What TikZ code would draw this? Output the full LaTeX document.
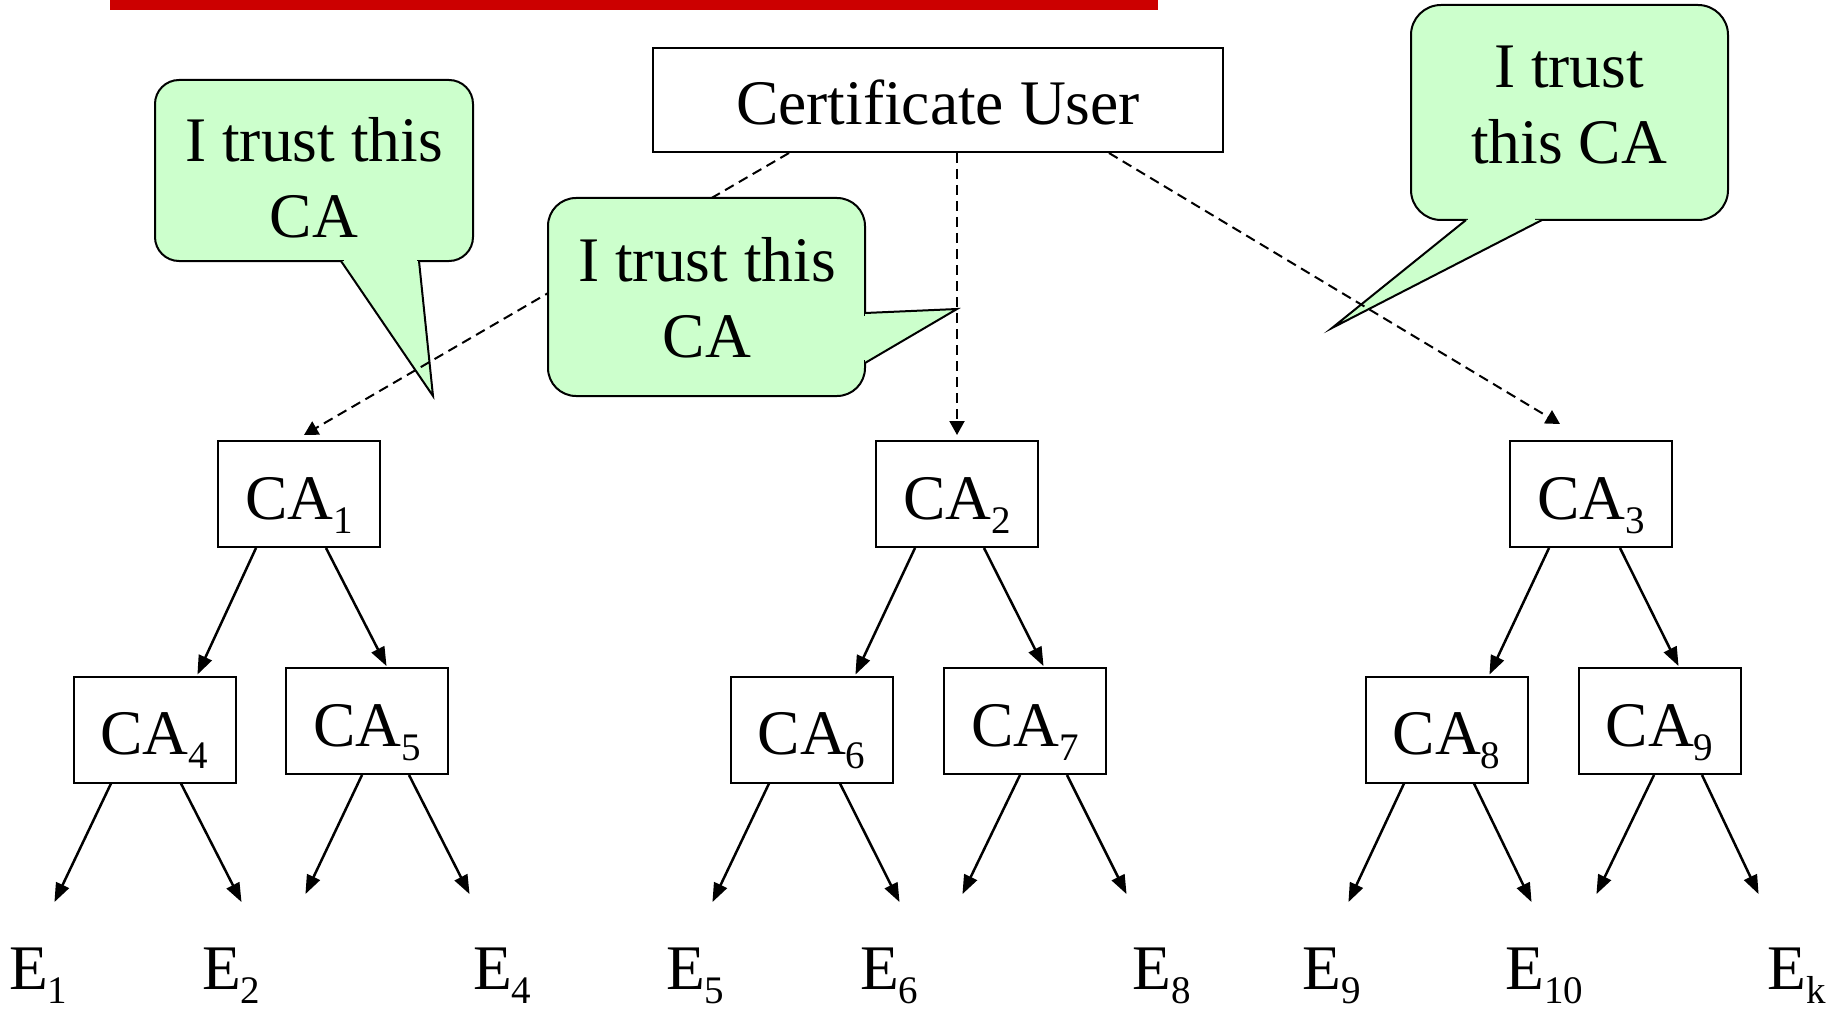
\documentclass[tikz,border=0pt]{standalone}
\usepackage{fontspec}
\setmainfont{Liberation Serif}
\usetikzlibrary{arrows.meta}
\definecolor{calloutgreen}{RGB}{204,255,204}
\definecolor{barred}{RGB}{204,0,0}
\newcommand\lowsub[1]{\raisebox{-14pt}{\fontsize{39}{39}\selectfont #1}}
\begin{document}
\begin{tikzpicture}[x=1pt,y=-1pt,
  big/.style={font=\fontsize{63.5}{76}\selectfont},
  cabox/.style={draw, line width=2pt, minimum width=162pt, minimum height=106pt, inner sep=0pt, big, text height=56pt, text depth=6pt},
  bubble/.style={fill=calloutgreen, draw=black, line width=2pt},
  bubbleline/.style={draw=black, line width=2pt, line join=miter},
  bubbletext/.style={big, align=center, anchor=base, inner sep=0pt},
  dashlink/.style={line width=2pt, dash pattern=on 10pt off 6pt, -{Triangle[length=14pt,width=15pt]}},
  arrowlink/.style={line width=2.5pt, shorten >=1pt, -{Triangle[length=19pt,width=14pt]}},
  leaf/.style={big, anchor=base west, inner sep=0pt}
]
\useasboundingbox (0,0) rectangle (1839,1011);

% red bar
\fill[barred] (110,0) rectangle (1158,10);

% callout 1 (under the dashed lines); text anchored at its last baseline
\draw[bubble, rounded corners=24pt] (155,80) rectangle (473,261);
\fill[calloutgreen] (341,261) -- (433,396) -- (419,261) -- cycle;
\fill[calloutgreen] (344,256) rectangle (417,264);
\draw[bubbleline] (341,261) -- (433,396) -- (419,261);
\node[bubbletext] (b1) at (314,237) {I trust this\\CA};

% callout 3
\draw[bubble, rounded corners=30pt] (1411,5) rectangle (1728,220);
\fill[calloutgreen] (1466,220) -- (1332,328) -- (1542,220) -- cycle;
\fill[calloutgreen] (1468,215) rectangle (1535,223);
\draw[bubbleline] (1466,220) -- (1332,328) -- (1542,220);
\node[bubbletext] (b3) at (1569,164) {I trust\\this CA};

% boxes
\node[cabox, minimum width=570pt, minimum height=104pt] (cu) at (938,100) {Certificate User};
\node[cabox] (ca1) at (299,494) {CA\lowsub{1}};
\node[cabox] (ca2) at (957,494) {CA\lowsub{2}};
\node[cabox] (ca3) at (1591,494) {CA\lowsub{3}};
\node[cabox] (ca4) at (154.5,729.5) {CA\lowsub{4}};
\node[cabox] (ca5) at (367,721) {CA\lowsub{5}};
\node[cabox] (ca6) at (811.5,729.5) {CA\lowsub{6}};
\node[cabox] (ca7) at (1025,721) {CA\lowsub{7}};
\node[cabox] (ca8) at (1446.5,729.5) {CA\lowsub{8}};
\node[cabox] (ca9) at (1659.5,721) {CA\lowsub{9}};

% dashed trust links
\draw[dashlink] (cu.south -| 789,0) -- ([xshift=5pt,yshift=5pt]ca1.north);
\draw[dashlink] (cu.south -| 957,0) -- ([yshift=5pt]ca2.north);
\draw[dashlink] (cu.south -| 1109,0) -- ([xshift=-31pt,yshift=16pt]ca3.north);

% callout 2 (over the dashed line)
\draw[bubble, rounded corners=28pt] (548,198) rectangle (865,396);
\fill[calloutgreen] (865,313) -- (957,309) -- (865,363) -- cycle;
\fill[calloutgreen] (860,316) rectangle (868,360);
\draw[bubbleline] (865,313) -- (957,309) -- (865,363);
\node[bubbletext] (b2) at (707,357) {I trust this\\CA};

% CA to CA arrows
\draw[arrowlink] (ca1.south -| 256,0) -- (ca4.north -| 197,0);
\draw[arrowlink] (ca1.south -| 326,0) -- (ca5.north -| 387,0);
\draw[arrowlink] (ca2.south -| 915,0) -- (ca6.north -| 855,0);
\draw[arrowlink] (ca2.south -| 984,0) -- (ca7.north -| 1044,0);
\draw[arrowlink] (ca3.south -| 1549,0) -- (ca8.north -| 1489,0);
\draw[arrowlink] (ca3.south -| 1620,0) -- (ca9.north -| 1679,0);

% leaf arrow ends
\coordinate (p1) at (54,903);
\coordinate (p2) at (242,903);
\coordinate (p3) at (305,895);
\coordinate (p4) at (470,895);
\coordinate (p5) at (712,903);
\coordinate (p6) at (900,903);
\coordinate (p7) at (962,895);
\coordinate (p8) at (1127,895);
\coordinate (p9) at (1348,903);
\coordinate (p10) at (1532,903);
\coordinate (p11) at (1596,895);
\coordinate (p12) at (1759,895);

\draw[arrowlink] (ca4.south -| 111,0) -- (p1);
\draw[arrowlink] (ca4.south -| 181,0) -- (p2);
\draw[arrowlink] (ca5.south -| 362,0) -- (p3);
\draw[arrowlink] (ca5.south -| 409,0) -- (p4);
\draw[arrowlink] (ca6.south -| 769,0) -- (p5);
\draw[arrowlink] (ca6.south -| 840,0) -- (p6);
\draw[arrowlink] (ca7.south -| 1020,0) -- (p7);
\draw[arrowlink] (ca7.south -| 1067,0) -- (p8);
\draw[arrowlink] (ca8.south -| 1404,0) -- (p9);
\draw[arrowlink] (ca8.south -| 1474,0) -- (p10);
\draw[arrowlink] (ca9.south -| 1654,0) -- (p11);
\draw[arrowlink] (ca9.south -| 1702,0) -- (p12);

% end entities
\node[leaf] (e1) at (9,989) {E\lowsub{1}};
\node[leaf] (e2) at (202,989) {E\lowsub{2}};
\node[leaf] (e4) at (473,989) {E\lowsub{4}};
\node[leaf] (e5) at (666,989) {E\lowsub{5}};
\node[leaf] (e6) at (860,989) {E\lowsub{6}};
\node[leaf] (e8) at (1132,989) {E\lowsub{8}};
\node[leaf] (e9) at (1302,989) {E\lowsub{9}};
\node[leaf] (e10) at (1505,989) {E\lowsub{10}};
\node[leaf] (ek) at (1767,989) {E\lowsub{k}};
\end{tikzpicture}
\end{document}
